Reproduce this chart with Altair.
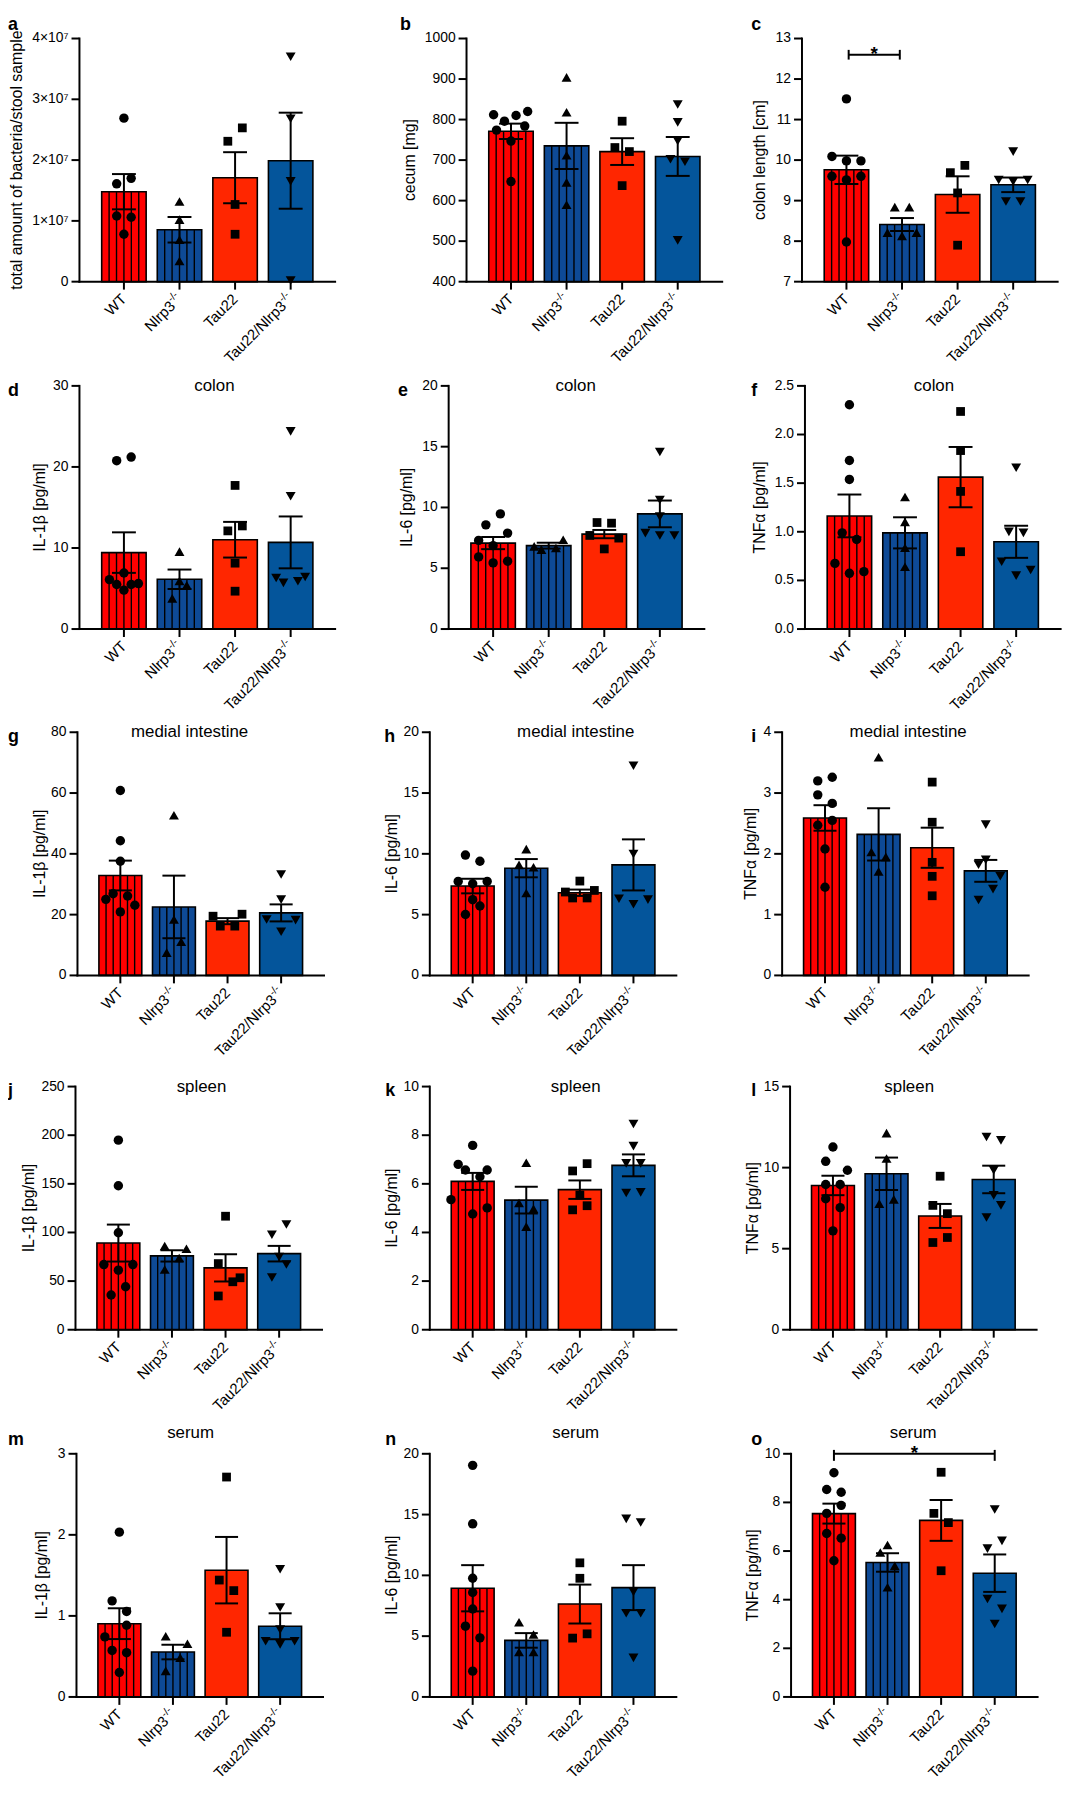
import altair as alt
import pandas as pd

FONT = "Liberation Sans"

# ---------------- categories / styling per group ----------------
groups = ["WT", "Nlrp3-/-", "Tau22", "Tau22/Nlrp3-/-"]
group_text = ["WT", "Nlrp3", "Tau22", "Tau22/Nlrp3"]
group_sup = ["", "-/-", "", "-/-"]
group_colors = ["#FF0000", "#0E4A96", "#FF2600", "#04559B"]
group_shapes = ["circle", "triangle-up", "square", "triangle-down"]
group_sizes = [90, 100, 78, 100]
group_striped = [True, True, False, False]

# ---------------- data ----------------
# a  total bacteria / stool sample
a_mean = [1.48e7, 0.854e7, 1.71e7, 1.99e7]
a_sem = [0.29e7, 0.21e7, 0.42e7, 0.79e7]
a_pts = [[2.69e7, 1.70e7, 1.61e7, 1.08e7, 1.06e7, 0.78e7], [1.32e7, 1.02e7, 0.69e7, 0.34e7],
         [2.53e7, 2.31e7, 1.27e7, 0.78e7], [3.70e7, 2.68e7, 1.65e7, 0.02e7]]
a_jit = [[0, 1, -1, -1, 1, 0], [0, 0, 0, 0], [1, -1, 0, 0], [0, 0, 0, 0]]

# b  cecum [mg]
b_mean = [771, 735, 721, 709]
b_sem = [19, 57, 33, 48]
b_pts = [[812, 796, 810, 820, 774, 784, 747, 647], [904, 818, 712, 645, 590],
         [796, 731, 721, 637], [837, 793, 747, 702, 696, 502]]
b_jit = [[-2.4, -0.9, 0.7, 2.3, -2, 1.9, 0, 0], [0, 0, 0, 0, 0], [0, -1, 1, 0], [0, 0, 0, -1, 1, 0]]

# c  colon length [cm]
c_mean = [9.76, 8.41, 9.15, 9.39]
c_sem = [0.35, 0.16, 0.45, 0.18]
c_pts = [[11.51, 10.09, 9.98, 9.98, 9.60, 9.51, 9.60, 7.98], [8.84, 8.84, 8.21, 8.13, 8.21],
         [9.69, 9.87, 9.19, 7.90], [10.21, 9.51, 9.47, 9.51, 8.98, 8.98]]
c_jit = [[0, -2, 0, 2, -2, 0, 2, 0], [-1, 1, -2, 0, 2], [-1, 1, 0, 0], [0, -2, 0, 2, -1, 1]]

# d  colon IL-1b
d_mean = [9.43, 6.14, 11.02, 10.69]
d_sem = [2.5, 1.2, 2.2, 3.2]
d_pts = [[20.77, 21.22, 6.91, 6.10, 5.49, 4.80, 5.49, 5.61], [9.55, 5.93, 5.41, 3.78],
         [17.72, 12.11, 12.72, 8.13, 4.67], [24.39, 16.38, 6.30, 5.69, 5.89, 6.42]]
d_jit = [[-1, 1, 0, -2, -1, 0, 1, 2], [0, 0, 1, -1], [0, -1, 1, 0, 0], [0, 0, -2, -1, 1, 2]]

# e  colon IL-6
e_mean = [7.07, 6.86, 7.81, 9.47]
e_sem = [0.5, 0.24, 0.34, 1.1]
e_pts = [[9.47, 8.57, 7.89, 7.29, 6.86, 5.93, 5.44, 5.58], [6.80, 6.53, 6.67, 7.35],
         [8.76, 8.71, 7.70, 7.48, 6.59], [14.56, 10.61, 9.25, 7.89, 7.70, 7.70]]
e_jit = [[1, -1, 2, -2, 0, -2, 0, 2], [-2, -1, 1, 2], [-1, 1, -2, 2, 0], [0, 0, 0, -2, 0, 2]]

# f  colon TNFa
f_mean = [1.163, 0.989, 1.562, 0.897]
f_sem = [0.22, 0.16, 0.31, 0.165]
f_pts = [[2.306, 1.733, 1.538, 0.989, 0.921, 0.675, 0.573, 0.590], [1.357, 1.102, 0.836, 0.641],
         [2.237, 1.835, 1.415, 0.795], [1.658, 0.999, 0.989, 0.692, 0.549, 0.607]]
f_jit = [[0, 0, 0, -1, 1, -2, 0, 2], [0, 0, 0, 0], [0, 0, 0, 0], [0, -1, 1, -2, 0, 2]]

# g  medial intestine IL-1b
g_mean = [32.87, 22.53, 17.85, 20.57]
g_sem = [4.9, 10.3, 1.0, 2.8]
g_pts = [[60.84, 44.30, 37.55, 25.03, 26.88, 26.12, 23.07, 20.90], [52.68, 18.39, 11.10, 7.51],
         [19.48, 20.14, 16.22, 16.22], [33.20, 24.93, 18.39, 18.18, 14.37]]
g_jit = [[0, 0, 0, -2, -1, 1, 2, 0], [0, 0, 1, -1], [-2, 2, -1, 1], [0, 0, -2, 2, 0]]

# h  medial intestine IL-6
h_mean = [7.35, 8.82, 6.80, 9.09]
h_sem = [0.6, 0.75, 0.26, 2.1]
h_pts = [[9.90, 9.39, 7.73, 7.54, 7.73, 6.23, 5.71, 5.01], [10.39, 9.09, 8.90, 6.78],
         [7.76, 6.86, 6.99, 6.37, 6.37], [17.25, 9.99, 6.31, 5.85, 6.23]]
h_jit = [[-1, 1, -2, 0, 2, 0, 1, -1], [0, -1, 1, 0], [0, -2, 2, -1, 1], [0, 0, -2, 0, 2]]

# i  medial intestine TNFa
i_mean = [2.59, 2.32, 2.10, 1.72]
i_sem = [0.21, 0.43, 0.33, 0.18]
i_pts = [[3.20, 3.26, 2.97, 2.83, 2.55, 2.47, 2.08, 1.45], [3.59, 2.03, 1.95, 1.71],
         [3.18, 2.52, 1.86, 1.63, 1.31], [2.48, 1.90, 1.82, 1.63, 1.42, 1.24]]
i_jit = [[-1, 1, -1, 1, 1, -1, 0, 0], [0, -1, 1, 0], [0, 0, 0, 0, 0], [0, 0, -1, 2, 1, -1]]

# j  spleen IL-1b
j_mean = [89.1, 75.9, 63.6, 78.2]
j_sem = [19, 5.8, 14, 8]
j_pts = [[194.9, 148.0, 99.7, 67.0, 67.0, 61.2, 44.2, 35.7], [86.1, 83.3, 73.8, 61.9],
         [116.7, 68.0, 53.4, 49.3, 34.7], [108.2, 97.6, 74.8, 67.0, 53.7]]
j_jit = [[0, 0, 0, -2, 2, 0, 1, -1], [-1, 2, 1, -1], [0, -1, 2, 1, -1], [1, -1, 0, 1, -1]]

# k  spleen IL-6
k_mean = [6.10, 5.33, 5.76, 6.76]
k_sem = [0.35, 0.55, 0.38, 0.45]
k_pts = [[7.58, 6.80, 6.57, 6.57, 6.29, 5.35, 4.76, 5.01], [6.87, 5.21, 4.97, 4.24],
         [6.53, 6.83, 5.54, 4.93, 5.10], [8.46, 7.55, 6.84, 6.84, 5.62, 5.65]]
k_jit = [[0, -2, -1, 2, 1, -3, 0, 2], [0, -1, 1, 0], [-1, 1, 0, -1, 1], [0, 0, -1, 1, -1, 1]]

# l  spleen TNFa
l_mean = [8.90, 9.62, 7.02, 9.27]
l_sem = [0.6, 1.0, 0.74, 0.85]
l_pts = [[11.27, 10.39, 9.84, 8.96, 8.96, 8.08, 7.53, 6.10], [12.13, 10.56, 7.78, 8.04],
         [9.47, 7.67, 7.16, 5.38, 5.69], [11.89, 11.68, 9.84, 8.29, 7.67, 6.92]]
l_jit = [[0, -1, 2, -1, 1, -1, 1, 0], [0, 0, -1, 1], [0, -1, 1, -1, 1], [-1, 1, 0, 0, 1, -1]]

# m  serum IL-1b
m_mean = [0.904, 0.554, 1.564, 0.872]
m_sem = [0.19, 0.09, 0.41, 0.16]
m_pts = [[2.033, 1.185, 1.055, 0.884, 0.741, 0.574, 0.546, 0.301], [0.749, 0.656, 0.485, 0.322],
         [2.713, 1.442, 1.312, 0.798], [1.576, 1.104, 0.831, 0.688, 0.648, 0.688]]
m_jit = [[0, -1, 1, 1, -2, -1, 1, 0], [-1, 2, 1, -1], [0, -1, 1, 0], [0, 0, 0, -2, 0, 2]]

# n  serum IL-6
n_mean = [8.94, 4.65, 7.64, 8.99]
n_sem = [1.9, 0.6, 1.6, 1.85]
n_pts = [[19.05, 14.24, 9.76, 8.59, 7.23, 5.82, 4.86, 2.12], [6.14, 5.14, 3.70, 3.70],
         [11.03, 9.76, 4.84, 5.19], [14.65, 14.35, 8.64, 6.88, 6.88, 3.21]]
n_jit = [[0, 0, 0, 0, 0, -1, 1, 0], [-1, 1, -1, 1], [0, 0, -1, 1], [-1, 1, 0, -1, 1, 0]]

# o  serum TNFa
o_mean = [7.54, 5.53, 7.26, 5.09]
o_sem = [0.41, 0.38, 0.84, 0.77]
o_pts = [[9.22, 8.53, 8.42, 7.88, 7.55, 6.72, 6.53, 5.60], [6.25, 5.94, 5.39, 4.51],
         [9.24, 7.55, 7.17, 5.19], [7.71, 6.42, 6.10, 4.03, 3.62, 3.00]]
o_jit = [[0, -1, 1, 1, -1, -1, 1, 0], [0, -1, 1, 0], [0, -1, 1, 0], [0, 1, -1, -1, 1, 0]]

IL1B = "IL-1β [pg/ml]"
IL6 = "IL-6 [pg/ml]"
TNF = "TNFα [pg/ml]"

PANELS = [
    dict(key="a", mean=a_mean, sem=a_sem, pts=a_pts, jit=a_jit, title="", ytitle="total amount of bacteria/stool sample",
         ymin=0, ymax=4e7, ticks=[0, 1e7, 2e7, 3e7, 4e7], fmt="sci"),
    dict(key="b", mean=b_mean, sem=b_sem, pts=b_pts, jit=b_jit, title="", ytitle="cecum [mg]",
         ymin=400, ymax=1000, ticks=[400, 500, 600, 700, 800, 900, 1000], fmt="d"),
    dict(key="c", mean=c_mean, sem=c_sem, pts=c_pts, jit=c_jit, title="", ytitle="colon length [cm]",
         ymin=7, ymax=13, ticks=[7, 8, 9, 10, 11, 12, 13], fmt="d"),
    dict(key="d", mean=d_mean, sem=d_sem, pts=d_pts, jit=d_jit, title="colon", ytitle=IL1B,
         ymin=0, ymax=30, ticks=[0, 10, 20, 30], fmt="d"),
    dict(key="e", mean=e_mean, sem=e_sem, pts=e_pts, jit=e_jit, title="colon", ytitle=IL6,
         ymin=0, ymax=20, ticks=[0, 5, 10, 15, 20], fmt="d"),
    dict(key="f", mean=f_mean, sem=f_sem, pts=f_pts, jit=f_jit, title="colon", ytitle=TNF,
         ymin=0, ymax=2.5, ticks=[0, 0.5, 1.0, 1.5, 2.0, 2.5], fmt=".1f"),
    dict(key="g", mean=g_mean, sem=g_sem, pts=g_pts, jit=g_jit, title="medial intestine", ytitle=IL1B,
         ymin=0, ymax=80, ticks=[0, 20, 40, 60, 80], fmt="d"),
    dict(key="h", mean=h_mean, sem=h_sem, pts=h_pts, jit=h_jit, title="medial intestine", ytitle=IL6,
         ymin=0, ymax=20, ticks=[0, 5, 10, 15, 20], fmt="d"),
    dict(key="i", mean=i_mean, sem=i_sem, pts=i_pts, jit=i_jit, title="medial intestine", ytitle=TNF,
         ymin=0, ymax=4, ticks=[0, 1, 2, 3, 4], fmt="d"),
    dict(key="j", mean=j_mean, sem=j_sem, pts=j_pts, jit=j_jit, title="spleen", ytitle=IL1B,
         ymin=0, ymax=250, ticks=[0, 50, 100, 150, 200, 250], fmt="d"),
    dict(key="k", mean=k_mean, sem=k_sem, pts=k_pts, jit=k_jit, title="spleen", ytitle=IL6,
         ymin=0, ymax=10, ticks=[0, 2, 4, 6, 8, 10], fmt="d"),
    dict(key="l", mean=l_mean, sem=l_sem, pts=l_pts, jit=l_jit, title="spleen", ytitle=TNF,
         ymin=0, ymax=15, ticks=[0, 5, 10, 15], fmt="d"),
    dict(key="m", mean=m_mean, sem=m_sem, pts=m_pts, jit=m_jit, title="serum", ytitle=IL1B,
         ymin=0, ymax=3, ticks=[0, 1, 2, 3], fmt="d"),
    dict(key="n", mean=n_mean, sem=n_sem, pts=n_pts, jit=n_jit, title="serum", ytitle=IL6,
         ymin=0, ymax=20, ticks=[0, 5, 10, 15, 20], fmt="d"),
    dict(key="o", mean=o_mean, sem=o_sem, pts=o_pts, jit=o_jit, title="serum", ytitle=TNF,
         ymin=0, ymax=10, ticks=[0, 2, 4, 6, 8, 10], fmt="d"),
]

# significance brackets: group span and bracket level (data units)
SIG = {
    "c": dict(g1=0.04, g2=0.96, y=12.6, y_top=12.72, y_bot=12.48),
    "o": dict(g1=0.0, g2=3.0, y=10.0, y_top=10.16, y_bot=9.71),
}

# ---------------- layout (pixels) ----------------
ROW_H = [269, 350, 349, 357, 370]      # cell height = plot bottom in cell
ROW_T = [24, 105, 104, 112, 125]       # plot top in cell
STEP = [56, 56, 54, 54, 54]            # px per group
COL_W = [357, 357, 340]
XMIN, XMAX = -0.8, 3.8
BAR_HALF = 0.4
CAP_HALF = 0.215
N_STRIPE = 6
JIT_PX = 7.3
TICK = 8
LETTER_Y = [15, 115, 114, 122, 116]
# key: (row, col, y-axis x in cell, letter x, y-title distance from axis, panel-title centre x)
LAYOUT = {
    "a": (0, 0, 72, 0, 55, 0), "b": (0, 1, 105, 38, 49, 0), "c": (0, 2, 86, 35, 34, 0),
    "d": (1, 0, 72, 0, 32, 208), "e": (1, 1, 87, 36, 34, 215), "f": (1, 2, 89, 35, 37, 219),
    "g": (2, 0, 70, 0, 30, 183), "h": (2, 1, 68, 22, 30, 215), "i": (2, 2, 66, 35, 23, 193),
    "j": (3, 0, 68, 0, 39, 195), "k": (3, 1, 68, 23, 30, 215), "l": (3, 2, 74, 35, 29, 194),
    "m": (4, 0, 69, 0, 27, 184), "n": (4, 1, 68, 23, 30, 215), "o": (4, 2, 75, 35, 30, 198),
}


def tick_label(v, fmt):
    if fmt == "sci":
        return "0" if v == 0 else f"{int(round(v / 1e7))}×10⁷"
    if fmt == ".1f":
        return f"{v:.1f}"
    return f"{int(round(v))}"


def build_panel(p):
    key = p["key"]
    row, col, L, lx, tdist, tcx = LAYOUT[key]
    H, T, step = ROW_H[row], ROW_T[row], STEP[row]
    W = step * (XMAX - XMIN)
    xs = alt.Scale(domain=[XMIN, XMAX], range=[L, L + W], nice=False, zero=False)
    ys = alt.Scale(domain=[p["ymin"], p["ymax"]], range=[H, T], nice=False, zero=False)

    def X(f):
        return alt.X(f, scale=xs, axis=None)

    def Y(f):
        return alt.Y(f, scale=ys, axis=None)

    bars = pd.DataFrame({"idx": list(range(4)), "mean": p["mean"], "sem": p["sem"],
                         "color": group_colors})
    bars["base"] = p["ymin"]
    bars["lo"] = bars["idx"] - BAR_HALF
    bars["hi"] = bars["idx"] + BAR_HALF
    bars["top"] = bars["mean"] + bars["sem"]
    bars["bot"] = bars["mean"] - bars["sem"]
    bars["cl"] = bars["idx"] - CAP_HALF
    bars["cr"] = bars["idx"] + CAP_HALF

    layers = []
    layers.append(alt.Chart(bars).mark_rect(stroke="black", strokeWidth=1.6).encode(
        x=X("lo:Q"), x2="hi:Q", y=Y("mean:Q"), y2="base:Q",
        color=alt.Color("color:N", scale=None)))

    srows = []
    for i in range(4):
        if group_striped[i]:
            for k in range(1, N_STRIPE):
                srows.append({"sx": i - BAR_HALF + k * 2 * BAR_HALF / N_STRIPE,
                              "mean": p["mean"][i], "base": p["ymin"]})
    layers.append(alt.Chart(pd.DataFrame(srows)).mark_rule(color="black", strokeWidth=1.4).encode(
        x=X("sx:Q"), y=Y("mean:Q"), y2="base:Q"))

    # axes drawn from the scales
    ax = pd.DataFrame({"x0": [XMIN], "x1": [XMAX], "y0": [p["ymin"]], "y1": [p["ymax"]]})
    layers.append(alt.Chart(ax).mark_rule(color="black", strokeWidth=2, strokeCap="square").encode(
        x=X("x0:Q"), x2="x1:Q", y=Y("y0:Q")))
    layers.append(alt.Chart(ax).mark_rule(color="black", strokeWidth=2, strokeCap="square").encode(
        x=X("x0:Q"), y=Y("y0:Q"), y2="y1:Q"))
    xt = pd.DataFrame({"idx": list(range(4))})
    layers.append(alt.Chart(xt).mark_rule(color="black", strokeWidth=2).encode(
        x=X("idx:Q"), y=alt.value(H), y2=alt.value(H + TICK)))
    yt = pd.DataFrame({"t": p["ticks"], "lab": [tick_label(v, p["fmt"]) for v in p["ticks"]]})
    yt["x0"] = XMIN
    layers.append(alt.Chart(yt).mark_rule(color="black", strokeWidth=2).encode(
        x=X("x0:Q"), x2=alt.value(L - TICK), y=Y("t:Q")))
    layers.append(alt.Chart(yt).mark_text(font=FONT, fontSize=14, color="black", align="right",
                                          baseline="middle").encode(
        x=alt.value(L - TICK - 3), y=Y("t:Q"), text="lab:N"))
    layers.append(alt.Chart(pd.DataFrame({"t": [p["ytitle"]]})).mark_text(
        font=FONT, fontSize=16, color="black", angle=270, align="center", baseline="bottom").encode(
        x=alt.value(L - tdist), y=alt.value((H + T) / 2), text="t:N"))

    layers.append(alt.Chart(bars).mark_rule(color="black", strokeWidth=2).encode(
        x=X("idx:Q"), y=Y("bot:Q"), y2="top:Q"))
    for fld in ["top", "bot"]:
        layers.append(alt.Chart(bars).mark_rule(color="black", strokeWidth=2).encode(
            x=X("cl:Q"), x2="cr:Q", y=Y(f"{fld}:Q")))

    prows = []
    for i in range(4):
        for v, j in zip(p["pts"][i], p["jit"][i]):
            prows.append({"px": i + j * JIT_PX / step, "v": v,
                          "shape": group_shapes[i], "sz": group_sizes[i]})
    layers.append(alt.Chart(pd.DataFrame(prows)).mark_point(
        filled=True, color="black", opacity=1, strokeWidth=0).encode(
        x=X("px:Q"), y=Y("v:Q"),
        shape=alt.Shape("shape:N", scale=None), size=alt.Size("sz:Q", scale=None)))

    # x category labels (rotated, with superscript)
    lab = pd.DataFrame({"idx": list(range(4)), "main": group_text, "sup": group_sup})
    lab_kw = dict(angle=315, align="right", baseline="middle", font=FONT, color="black")
    ly = H + 15
    layers.append(alt.Chart(lab[lab["sup"] == ""]).mark_text(fontSize=15, **lab_kw).encode(
        x=X("idx:Q"), y=alt.value(ly), text="main:N"))
    layers.append(alt.Chart(lab[lab["sup"] != ""]).mark_text(fontSize=15, dx=-10, **lab_kw).encode(
        x=X("idx:Q"), y=alt.value(ly), text="main:N"))
    layers.append(alt.Chart(lab[lab["sup"] != ""]).mark_text(fontSize=10.5, dy=-4.5, **lab_kw).encode(
        x=X("idx:Q"), y=alt.value(ly), text="sup:N"))

    if p["title"]:
        ty = T if row < 4 else T - 21
        layers.append(alt.Chart(pd.DataFrame({"t": [p["title"]]})).mark_text(
            fontSize=17, font=FONT, color="black", align="center", baseline="middle").encode(
            x=alt.value(tcx), y=alt.value(ty), text="t:N"))

    layers.append(alt.Chart(pd.DataFrame({"t": [key]})).mark_text(
        fontSize=18, font=FONT, fontWeight="bold", color="black", align="left",
        baseline="alphabetic").encode(x=alt.value(lx), y=alt.value(LETTER_Y[row]), text="t:N"))

    if key in SIG:
        s = SIG[key]
        sd = pd.DataFrame({"g1": [s["g1"]], "g2": [s["g2"]], "y": [s["y"]],
                           "yt": [s["y_top"]], "yb": [s["y_bot"]],
                           "gm": [(s["g1"] + s["g2"]) / 2], "star": ["*"]})
        layers.append(alt.Chart(sd).mark_rule(color="black", strokeWidth=2).encode(
            x=X("g1:Q"), x2="g2:Q", y=Y("y:Q")))
        for g in ["g1", "g2"]:
            layers.append(alt.Chart(sd).mark_rule(color="black", strokeWidth=2).encode(
                x=X(f"{g}:Q"), y=Y("yb:Q"), y2="yt:Q"))
        layers.append(alt.Chart(sd).mark_text(fontSize=19, font=FONT, fontWeight="bold", color="black",
                                              baseline="alphabetic", dy=5).encode(
            x=X("gm:Q"), y=Y("y:Q"), text="star:N"))

    return alt.layer(*layers).properties(width=COL_W[col], height=H)


charts = [build_panel(p) for p in PANELS]

chart = alt.concat(*charts, columns=3, spacing=0, bounds="flush", align="each").properties(
    padding=0
).configure_view(stroke=None)

chart.save("out.html", embed_options={"renderer": "svg", "actions": False})
